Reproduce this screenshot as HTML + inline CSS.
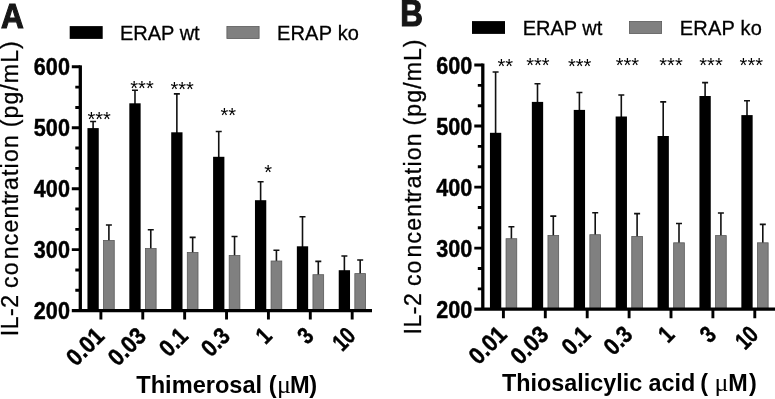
<!DOCTYPE html>
<html><head><meta charset="utf-8"><title>IL-2 concentration</title>
<style>html,body{margin:0;padding:0;background:#fff}body{width:775px;height:399px;overflow:hidden}svg{display:block;will-change:transform;filter:grayscale(1)}text{font-family:"Liberation Sans",sans-serif;fill:#000}.b{font-weight:bold}.r{stroke:#000;stroke-width:0.3px}.s{font-family:"Liberation Serif",serif;font-weight:normal}</style>
</head><body>
<svg width="775" height="399" viewBox="0 0 775 399">
<rect width="775" height="399" fill="#fff"/>
<path d="M93.1 129.1V121.5M90.1 121.5H96.1" stroke="#111" stroke-width="1.6" fill="none"/>
<path d="M108.9 241V225M105.9 225H111.9" stroke="#111" stroke-width="1.6" fill="none"/>
<rect x="87.45" y="128.1" width="11.3" height="182.5" fill="#000"/>
<rect x="103.55" y="240.4" width="10.7" height="70.2" fill="#808080" stroke="#5a5a5a" stroke-width="0.8"/>
<path d="M134.98 104.3V90.3M131.98 90.3H137.98" stroke="#111" stroke-width="1.6" fill="none"/>
<path d="M150.78 249.1V229.7M147.78 229.7H153.78" stroke="#111" stroke-width="1.6" fill="none"/>
<rect x="129.33" y="103.3" width="11.3" height="207.3" fill="#000"/>
<rect x="145.43" y="248.5" width="10.7" height="62.1" fill="#808080" stroke="#5a5a5a" stroke-width="0.8"/>
<path d="M176.86 133.3V93.9M173.86 93.9H179.86" stroke="#111" stroke-width="1.6" fill="none"/>
<path d="M192.66 253V237.4M189.66 237.4H195.66" stroke="#111" stroke-width="1.6" fill="none"/>
<rect x="171.21" y="132.3" width="11.3" height="178.3" fill="#000"/>
<rect x="187.31" y="252.4" width="10.7" height="58.2" fill="#808080" stroke="#5a5a5a" stroke-width="0.8"/>
<path d="M218.74 157.8V131.5M215.74 131.5H221.74" stroke="#111" stroke-width="1.6" fill="none"/>
<path d="M234.54 256V236.5M231.54 236.5H237.54" stroke="#111" stroke-width="1.6" fill="none"/>
<rect x="213.09" y="156.8" width="11.3" height="153.8" fill="#000"/>
<rect x="229.19" y="255.4" width="10.7" height="55.2" fill="#808080" stroke="#5a5a5a" stroke-width="0.8"/>
<path d="M260.62 201.2V181.8M257.62 181.8H263.62" stroke="#111" stroke-width="1.6" fill="none"/>
<path d="M276.42 261.6V250.3M273.42 250.3H279.42" stroke="#111" stroke-width="1.6" fill="none"/>
<rect x="254.97" y="200.2" width="11.3" height="110.4" fill="#000"/>
<rect x="271.07" y="261" width="10.7" height="49.6" fill="#808080" stroke="#5a5a5a" stroke-width="0.8"/>
<path d="M302.5 247.3V216.7M299.5 216.7H305.5" stroke="#111" stroke-width="1.6" fill="none"/>
<path d="M318.3 275.3V261.4M315.3 261.4H321.3" stroke="#111" stroke-width="1.6" fill="none"/>
<rect x="296.85" y="246.3" width="11.3" height="64.3" fill="#000"/>
<rect x="312.95" y="274.7" width="10.7" height="35.9" fill="#808080" stroke="#5a5a5a" stroke-width="0.8"/>
<path d="M344.38 271.2V256M341.38 256H347.38" stroke="#111" stroke-width="1.6" fill="none"/>
<path d="M360.18 274.2V260M357.18 260H363.18" stroke="#111" stroke-width="1.6" fill="none"/>
<rect x="338.73" y="270.2" width="11.3" height="40.4" fill="#000"/>
<rect x="354.83" y="273.6" width="10.7" height="37" fill="#808080" stroke="#5a5a5a" stroke-width="0.8"/>
<path d="M80.3 65.35V310.6" stroke="#000" stroke-width="3.3" fill="none"/>
<path d="M71.8 310.6H372" stroke="#000" stroke-width="3.2" fill="none"/>
<path d="M71.8 66.8H80.3M75.3 87.12H80.3M75.3 107.43H80.3M71.8 127.75H80.3M75.3 148.07H80.3M75.3 168.38H80.3M71.8 188.7H80.3M75.3 209.02H80.3M75.3 229.33H80.3M71.8 249.65H80.3M75.3 269.97H80.3M75.3 290.28H80.3" stroke="#000" stroke-width="2.9" fill="none"/>
<path d="M100.9 310.6V319.6M142.78 310.6V319.6M184.66 310.6V319.6M226.54 310.6V319.6M268.42 310.6V319.6M310.3 310.6V319.6M352.18 310.6V319.6" stroke="#000" stroke-width="2.9" fill="none"/>
<text class="b" font-size="24" stroke="#000" stroke-width="0.45" text-anchor="end" transform="translate(69.9 75) scale(0.9 1)">600</text>
<text class="b" font-size="24" stroke="#000" stroke-width="0.45" text-anchor="end" transform="translate(69.9 135.95) scale(0.9 1)">500</text>
<text class="b" font-size="24" stroke="#000" stroke-width="0.45" text-anchor="end" transform="translate(69.9 196.9) scale(0.9 1)">400</text>
<text class="b" font-size="24" stroke="#000" stroke-width="0.45" text-anchor="end" transform="translate(69.9 257.85) scale(0.9 1)">300</text>
<text class="b" font-size="24" stroke="#000" stroke-width="0.45" text-anchor="end" transform="translate(69.9 318.8) scale(0.9 1)">200</text>
<text class="b" font-size="24" stroke="#000" stroke-width="0.45" text-anchor="end" transform="translate(105.7 337.5) rotate(-45) scale(0.9 1)">0.01</text>
<text class="b" font-size="24" stroke="#000" stroke-width="0.45" text-anchor="end" transform="translate(147.58 337.5) rotate(-45) scale(0.9 1)">0.03</text>
<text class="b" font-size="24" stroke="#000" stroke-width="0.45" text-anchor="end" transform="translate(189.46 337.5) rotate(-45) scale(0.865 1)">0.1</text>
<text class="b" font-size="24" stroke="#000" stroke-width="0.45" text-anchor="end" transform="translate(231.34 337.5) rotate(-45) scale(0.865 1)">0.3</text>
<text class="b" font-size="24" stroke="#000" stroke-width="0.45" text-anchor="end" transform="translate(273.22 337.5) rotate(-45) scale(0.83 1)">1</text>
<text class="b" font-size="24" stroke="#000" stroke-width="0.45" text-anchor="end" transform="translate(315.1 337.5) rotate(-45) scale(0.83 1)">3</text>
<text class="b" font-size="24" stroke="#000" stroke-width="0.45" text-anchor="end" transform="translate(356.98 337.5) rotate(-45) scale(0.78 1)">10</text>
<text font-size="20" text-anchor="middle" x="99.2" y="125.8">***</text>
<text font-size="20" text-anchor="middle" x="142" y="94.9">***</text>
<text font-size="20" text-anchor="middle" x="182.2" y="96.3">***</text>
<text font-size="20" text-anchor="middle" x="228.3" y="122.3">**</text>
<text font-size="20" text-anchor="middle" x="268.2" y="178.8">*</text>
<text class="r" font-size="23" letter-spacing="0.51" transform="translate(18.3 336.2) rotate(-90)">IL-2</text>
<text class="r" font-size="23" letter-spacing="1.21" transform="translate(18.3 287.9) rotate(-90)">co<tspan dx="2">ncent</tspan><tspan dx="-2">ration</tspan></text>
<text class="r" font-size="23" letter-spacing="1.13" transform="translate(18.3 127.3) rotate(-90)">(pg/mL)</text>
<text class="b" font-size="35.4" stroke="#161616" stroke-width="1.2" stroke-linejoin="miter" fill="#161616" style="fill:#161616" transform="translate(0.9 28.1) scale(0.89 1)">A</text>
<rect x="69.7" y="26.1" width="33" height="12.8" fill="#000"/>
<rect x="226.9" y="26.5" width="32.2" height="12" fill="#808080" stroke="#5a5a5a" stroke-width="0.8"/>
<text class="r" font-size="20" x="120" y="40.3">ERAP wt</text>
<text class="r" font-size="20" letter-spacing="0.22" x="276.9" y="40.3">ERAP ko</text>
<text class="b" font-size="23.6" x="136.3" y="393">Thimerosal (<tspan class="s" font-size="26" dx="0.4">μ</tspan><tspan dx="-0.9">M</tspan><tspan dx="-0.5">)</tspan></text>
<path d="M495.6 133.8V72M492.6 72H498.6" stroke="#111" stroke-width="1.6" fill="none"/>
<path d="M511.4 239.3V226.8M508.4 226.8H514.4" stroke="#111" stroke-width="1.6" fill="none"/>
<rect x="489.95" y="132.8" width="11.3" height="176.4" fill="#000"/>
<rect x="506.05" y="238.7" width="10.7" height="70.5" fill="#808080" stroke="#5a5a5a" stroke-width="0.8"/>
<path d="M537.5 102.9V83.7M534.5 83.7H540.5" stroke="#111" stroke-width="1.6" fill="none"/>
<path d="M553.3 236V216.1M550.3 216.1H556.3" stroke="#111" stroke-width="1.6" fill="none"/>
<rect x="531.85" y="101.9" width="11.3" height="207.3" fill="#000"/>
<rect x="547.95" y="235.4" width="10.7" height="73.8" fill="#808080" stroke="#5a5a5a" stroke-width="0.8"/>
<path d="M579.4 110.9V92.5M576.4 92.5H582.4" stroke="#111" stroke-width="1.6" fill="none"/>
<path d="M595.2 235.3V212.8M592.2 212.8H598.2" stroke="#111" stroke-width="1.6" fill="none"/>
<rect x="573.75" y="109.9" width="11.3" height="199.3" fill="#000"/>
<rect x="589.85" y="234.7" width="10.7" height="74.5" fill="#808080" stroke="#5a5a5a" stroke-width="0.8"/>
<path d="M621.3 117.5V95M618.3 95H624.3" stroke="#111" stroke-width="1.6" fill="none"/>
<path d="M637.1 237V213.6M634.1 213.6H640.1" stroke="#111" stroke-width="1.6" fill="none"/>
<rect x="615.65" y="116.5" width="11.3" height="192.7" fill="#000"/>
<rect x="631.75" y="236.4" width="10.7" height="72.8" fill="#808080" stroke="#5a5a5a" stroke-width="0.8"/>
<path d="M663.2 137V101.9M660.2 101.9H666.2" stroke="#111" stroke-width="1.6" fill="none"/>
<path d="M679 243.4V223.5M676 223.5H682" stroke="#111" stroke-width="1.6" fill="none"/>
<rect x="657.55" y="136" width="11.3" height="173.2" fill="#000"/>
<rect x="673.65" y="242.8" width="10.7" height="66.4" fill="#808080" stroke="#5a5a5a" stroke-width="0.8"/>
<path d="M705.1 97V82.6M702.1 82.6H708.1" stroke="#111" stroke-width="1.6" fill="none"/>
<path d="M720.9 236.2V213M717.9 213H723.9" stroke="#111" stroke-width="1.6" fill="none"/>
<rect x="699.45" y="96" width="11.3" height="213.2" fill="#000"/>
<rect x="715.55" y="235.6" width="10.7" height="73.6" fill="#808080" stroke="#5a5a5a" stroke-width="0.8"/>
<path d="M747 116.1V100.8M744 100.8H750" stroke="#111" stroke-width="1.6" fill="none"/>
<path d="M762.8 243.4V224.4M759.8 224.4H765.8" stroke="#111" stroke-width="1.6" fill="none"/>
<rect x="741.35" y="115.1" width="11.3" height="194.1" fill="#000"/>
<rect x="757.45" y="242.8" width="10.7" height="66.4" fill="#808080" stroke="#5a5a5a" stroke-width="0.8"/>
<path d="M482.8 63.55V309.2" stroke="#000" stroke-width="3.3" fill="none"/>
<path d="M474.3 309.2H776" stroke="#000" stroke-width="3.2" fill="none"/>
<path d="M474.3 65H482.8M477.8 85.35H482.8M477.8 105.7H482.8M474.3 126.05H482.8M477.8 146.4H482.8M477.8 166.75H482.8M474.3 187.1H482.8M477.8 207.45H482.8M477.8 227.8H482.8M474.3 248.15H482.8M477.8 268.5H482.8M477.8 288.85H482.8" stroke="#000" stroke-width="2.9" fill="none"/>
<path d="M503.4 309.2V318.2M545.3 309.2V318.2M587.2 309.2V318.2M629.1 309.2V318.2M671 309.2V318.2M712.9 309.2V318.2M754.8 309.2V318.2" stroke="#000" stroke-width="2.9" fill="none"/>
<text class="b" font-size="24" stroke="#000" stroke-width="0.45" text-anchor="end" transform="translate(472.3 73.8) scale(0.9 1)">600</text>
<text class="b" font-size="24" stroke="#000" stroke-width="0.45" text-anchor="end" transform="translate(472.3 134.85) scale(0.9 1)">500</text>
<text class="b" font-size="24" stroke="#000" stroke-width="0.45" text-anchor="end" transform="translate(472.3 195.9) scale(0.9 1)">400</text>
<text class="b" font-size="24" stroke="#000" stroke-width="0.45" text-anchor="end" transform="translate(472.3 256.95) scale(0.9 1)">300</text>
<text class="b" font-size="24" stroke="#000" stroke-width="0.45" text-anchor="end" transform="translate(472.3 318) scale(0.9 1)">200</text>
<text class="b" font-size="24" stroke="#000" stroke-width="0.45" text-anchor="end" transform="translate(508.2 336.1) rotate(-45) scale(0.9 1)">0.01</text>
<text class="b" font-size="24" stroke="#000" stroke-width="0.45" text-anchor="end" transform="translate(550.1 336.1) rotate(-45) scale(0.9 1)">0.03</text>
<text class="b" font-size="24" stroke="#000" stroke-width="0.45" text-anchor="end" transform="translate(592 336.1) rotate(-45) scale(0.865 1)">0.1</text>
<text class="b" font-size="24" stroke="#000" stroke-width="0.45" text-anchor="end" transform="translate(633.9 336.1) rotate(-45) scale(0.865 1)">0.3</text>
<text class="b" font-size="24" stroke="#000" stroke-width="0.45" text-anchor="end" transform="translate(675.8 336.1) rotate(-45) scale(0.83 1)">1</text>
<text class="b" font-size="24" stroke="#000" stroke-width="0.45" text-anchor="end" transform="translate(717.7 336.1) rotate(-45) scale(0.83 1)">3</text>
<text class="b" font-size="24" stroke="#000" stroke-width="0.45" text-anchor="end" transform="translate(759.6 336.1) rotate(-45) scale(0.78 1)">10</text>
<text font-size="20" text-anchor="middle" x="505.2" y="72.6">**</text>
<text font-size="20" text-anchor="middle" x="537.9" y="71.6">***</text>
<text font-size="20" text-anchor="middle" x="579.7" y="72.6">***</text>
<text font-size="20" text-anchor="middle" x="627.4" y="72.2">***</text>
<text font-size="20" text-anchor="middle" x="671" y="71.6">***</text>
<text font-size="20" text-anchor="middle" x="711" y="72.2">***</text>
<text font-size="20" text-anchor="middle" x="751.3" y="72.4">***</text>
<text class="r" font-size="23" letter-spacing="0.51" transform="translate(420.6 334.4) rotate(-90)">IL-2</text>
<text class="r" font-size="23" letter-spacing="1.21" transform="translate(420.6 286.1) rotate(-90)">co<tspan dx="2">ncent</tspan><tspan dx="-2">ration</tspan></text>
<text class="r" font-size="23" letter-spacing="1.13" transform="translate(420.6 125.5) rotate(-90)">(pg/mL)</text>
<text class="b" font-size="37" stroke="#161616" stroke-width="1.2" stroke-linejoin="miter" fill="#161616" style="fill:#161616" transform="translate(400.3 26.2) scale(0.85 1)">B</text>
<rect x="472" y="21.1" width="33" height="12.8" fill="#000"/>
<rect x="629.4" y="21.5" width="32.2" height="12" fill="#808080" stroke="#5a5a5a" stroke-width="0.8"/>
<text class="r" font-size="20" x="522.7" y="35.3">ERAP wt</text>
<text class="r" font-size="20" letter-spacing="0.22" x="679.7" y="35.3">ERAP ko</text>
<text class="b" font-size="23.35" x="502" y="391.2">Thiosalicylic acid<tspan dx="-1.5"> ( </tspan><tspan class="s" font-size="26" dx="0">μ</tspan><tspan dx="-0.2">M</tspan><tspan dx="1.2">)</tspan></text>
</svg></body></html>
